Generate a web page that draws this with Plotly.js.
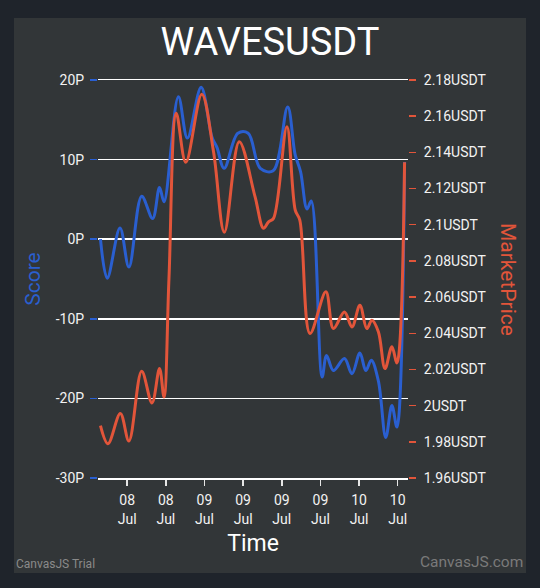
<!DOCTYPE html>
<html>
<head>
<meta charset="utf-8">
<script src="https://cdn.plot.ly/plotly-3.0.1.min.js"></script>
<style>
  html, body { margin:0; padding:0; background:#1f242b; width:540px; height:588px; overflow:hidden; }
  #chart { position:absolute; left:14px; top:18px; width:512px; height:555px; }
</style>
</head>
<body>
<div id="chart"></div>
<script>
// Score series (P)
const scoreTimes = [
  '2023-07-08 07:51','2023-07-08 08:54','2023-07-08 10:53','2023-07-08 12:16','2023-07-08 14:15',
  '2023-07-08 15:57','2023-07-08 17:01','2023-07-08 17:43','2023-07-08 19:57','2023-07-08 21:21',
  '2023-07-08 23:29','2023-07-09 01:10','2023-07-09 01:57','2023-07-09 03:03','2023-07-09 05:11',
  '2023-07-09 06:47','2023-07-09 08:40','2023-07-09 10:40','2023-07-09 12:55','2023-07-09 14:05',
  '2023-07-09 14:55','2023-07-09 15:55','2023-07-09 16:35','2023-07-09 18:16','2023-07-09 18:57',
  '2023-07-09 20:01','2023-07-09 21:44','2023-07-09 22:54','2023-07-10 00:08','2023-07-10 01:03',
  '2023-07-10 01:54','2023-07-10 03:00','2023-07-10 04:09','2023-07-10 05:06','2023-07-10 05:53',
  '2023-07-10 07:04'
];
const scoreValues = [
  0, -4.9, 1.4, -3.5, 5.4,
  2.6, 6.5, 4.7, 17.9, 12.7,
  19.1, 12.8, 11.5, 8.9, 13.3,
  13.3, 8.9, 8.6, 16.6, 10.6,
  8.5, 3.8, 4.8, -17.3, -14.6,
  -16.5, -15.0, -16.9, -14.3, -16.5,
  -15.2, -17.8, -24.9, -20.9, -23.6,
  9.7
];
// MarketPrice series (USDT)
const priceTimes = [
  '2023-07-08 07:51','2023-07-08 09:01','2023-07-08 10:56','2023-07-08 12:16','2023-07-08 14:15',
  '2023-07-08 15:51','2023-07-08 17:01','2023-07-08 17:43','2023-07-08 18:29','2023-07-08 19:37',
  '2023-07-08 21:06','2023-07-08 23:35','2023-07-09 01:25','2023-07-09 03:05','2023-07-09 05:24',
  '2023-07-09 07:51','2023-07-09 09:10','2023-07-09 09:57','2023-07-09 10:43','2023-07-09 12:48',
  '2023-07-09 14:06','2023-07-09 14:48','2023-07-09 16:23','2023-07-09 18:51','2023-07-09 20:01',
  '2023-07-09 21:44','2023-07-09 22:54','2023-07-10 00:08','2023-07-10 01:12','2023-07-10 02:00',
  '2023-07-10 03:00','2023-07-10 04:02','2023-07-10 05:06','2023-07-10 05:53','2023-07-10 07:04'
];
const priceValues = [
  1.989, 1.979, 1.9956, 1.9805, 2.019,
  2.0015, 2.0205, 2.0048, 2.07, 2.1616,
  2.1345, 2.1721, 2.140, 2.0958, 2.1459,
  2.1155, 2.098, 2.1016, 2.1035, 2.1542,
  2.108, 2.1026, 2.0399, 2.0629, 2.0426,
  2.0518, 2.0435, 2.0555, 2.0426, 2.0472,
  2.0408, 2.0205, 2.0325, 2.0236, 2.1345
];
// Axis ticks
const xTickVals = ['2023-07-08 12:00','2023-07-08 18:00','2023-07-09 00:00','2023-07-09 06:00',
                   '2023-07-09 12:00','2023-07-09 18:00','2023-07-10 00:00','2023-07-10 06:00'];
const xTickText = ['08<br>Jul','08<br>Jul','09<br>Jul','09<br>Jul','09<br>Jul','09<br>Jul','10<br>Jul','10<br>Jul'];
const scoreTickVals = [-30,-20,-10,0,10,20];
const scoreTickText = ['-30P','-20P','-10P','0P','10P','20P'];
const priceTickVals = [1.96,1.98,2.00,2.02,2.04,2.06,2.08,2.10,2.12,2.14,2.16,2.18];
const priceTickText = ['1.96USDT','1.98USDT','2USDT','2.02USDT','2.04USDT','2.06USDT','2.08USDT','2.1USDT','2.12USDT','2.14USDT','2.16USDT','2.18USDT'];

const BLUE = '#2a5fd0';
const ORANGE = '#e2553a';
const FONT = 'Roboto, sans-serif';

const traces = [
  { x: scoreTimes, y: scoreValues, type:'scatter', mode:'lines', name:'Score',
    line:{color:BLUE, width:3, shape:'spline', smoothing:1}, yaxis:'y', hoverinfo:'skip' },
  { x: priceTimes, y: priceValues, type:'scatter', mode:'lines', name:'MarketPrice',
    line:{color:ORANGE, width:3, shape:'spline', smoothing:1}, yaxis:'y2', hoverinfo:'skip' }
];

const layout = {
  width:512, height:555,
  paper_bgcolor:'#323638', plot_bgcolor:'#323638',
  margin:{l:84, r:118, t:62, b:95, pad:0},
  showlegend:false,
  font:{family:FONT, color:'#f2f2f2'},
  title:{text:'WAVESUSDT', font:{family:FONT, size:38, color:'#ffffff'}, x:0.5, xanchor:'center', y:0.957, yanchor:'middle'},
  xaxis:{
    type:'date', range:['2023-07-08 07:28','2023-07-10 07:36'],
    tickmode:'array', tickvals:xTickVals, ticktext:xTickText,
    ticks:'outside', ticklen:6, tickwidth:1.5, tickcolor:'#e6e6e6', ticklabelstandoff:3,
    showline:true, mirror:true, linecolor:'#ffffff', linewidth:1.5, showgrid:false, zeroline:false,
    tickfont:{family:FONT, size:14, color:'#f2f2f2'},
    title:{text:'Time', font:{family:FONT, size:23, color:'#ffffff'}, standoff:9}
  },
  yaxis:{
    range:[-30,20], tickmode:'array', tickvals:scoreTickVals, ticktext:scoreTickText,
    ticks:'outside', ticklen:7, tickwidth:1.5, tickcolor:BLUE, ticklabelstandoff:3,
    showgrid:true, gridcolor:'#ffffff', gridwidth:1.5, zeroline:false, showline:false,
    tickfont:{family:FONT, size:14, color:'#f2f2f2'},
    title:{text:'Score', font:{family:FONT, size:21, color:BLUE}, standoff:9}
  },
  yaxis2:{
    range:[1.96,2.18], overlaying:'y', side:'right', anchor:'x',
    tickmode:'array', tickvals:priceTickVals, ticktext:priceTickText,
    ticks:'outside', ticklen:7, tickwidth:1.5, tickcolor:ORANGE, ticklabelstandoff:5,
    showgrid:false, zeroline:false, showline:false,
    tickfont:{family:FONT, size:14, color:'#f2f2f2'}
  },
  annotations:[
    { text:'MarketPrice', xref:'paper', yref:'paper', x:1.3226, y:0.5, xanchor:'center', yanchor:'middle',
      textangle:90, showarrow:false, font:{family:FONT, size:21, color:ORANGE} },
    { text:'CanvasJS Trial', xref:'paper', yref:'paper', x:-0.271, y:-0.216, xanchor:'left', yanchor:'middle',
      showarrow:false, font:{family:FONT, size:12, color:'#8a8a8a'} },
    { text:'CanvasJS.com', xref:'paper', yref:'paper', x:1.377, y:-0.21, xanchor:'right', yanchor:'middle',
      showarrow:false, font:{family:FONT, size:15.5, color:'#7a7a7a'} }
  ]
};

Plotly.newPlot('chart', traces, layout, {displayModeBar:false, staticPlot:true});
</script>
</body>
</html>
